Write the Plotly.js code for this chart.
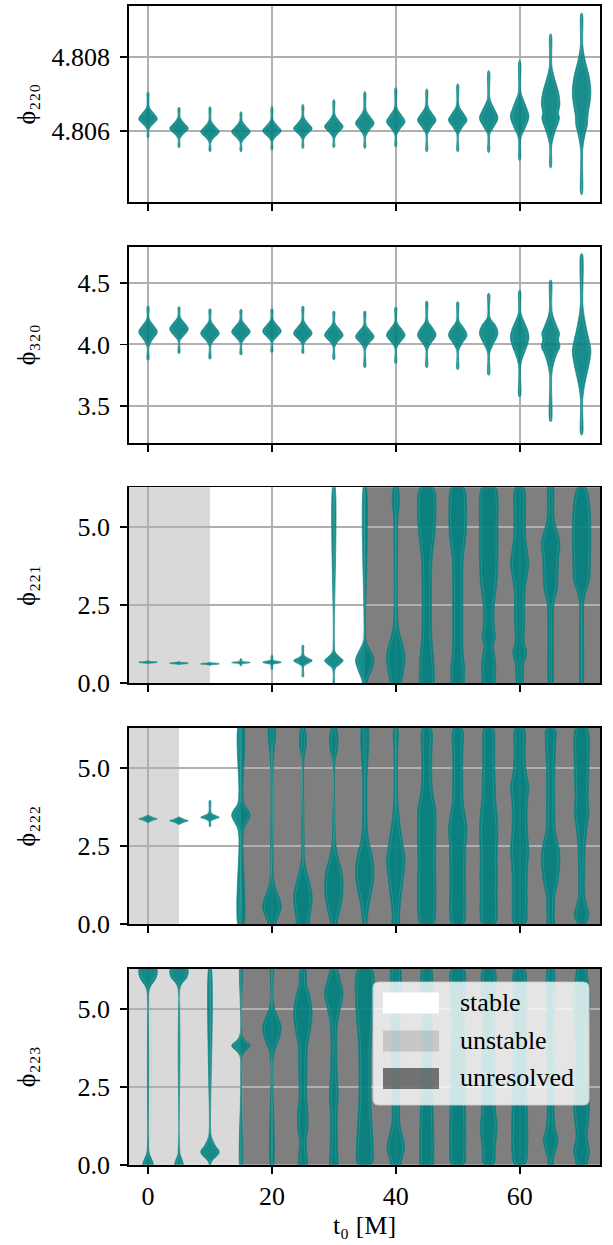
<!DOCTYPE html>
<html><head><meta charset="utf-8">
<script src="https://cdn.plot.ly/plotly-3.0.1.min.js"></script>
<style>html,body{margin:0;padding:0;background:#fff}</style>
</head><body><div id="chart" style="width:613px;height:1245px"></div>
<script>
// ---------------- DATA ----------------
const t0 = [0,5,10,15,20,25,30,35,40,45,50,55,60,65,70];

// Violin profiles: each violin is a list of [phase, relative half-width]
const phi220 = [
 [[4.80580,0],[4.80584,0.1],[4.80603,0.1],[4.80614,0.4],[4.80632,1.0],[4.80648,0.6],[4.80664,0.15],[4.80685,0.1],[4.80702,0.1],[4.80706,0]],
 [[4.80553,0],[4.80557,0.1],[4.80578,0.1],[4.80589,0.4],[4.80606,1.0],[4.80621,0.55],[4.80636,0.13],[4.80661,0.1],[4.80664,0]],
 [[4.80542,0],[4.80546,0.1],[4.80568,0.1],[4.80580,0.4],[4.80597,1.0],[4.80612,0.55],[4.80628,0.13],[4.80662,0.1],[4.80666,0]],
 [[4.80542,0],[4.80546,0.1],[4.80568,0.1],[4.80580,0.45],[4.80597,1.0],[4.80612,0.55],[4.80627,0.13],[4.80648,0.1],[4.80652,0]],
 [[4.80547,0],[4.80551,0.1],[4.80572,0.1],[4.80584,0.45],[4.80600,1.0],[4.80615,0.55],[4.80630,0.13],[4.80662,0.1],[4.80666,0]],
 [[4.80551,0],[4.80555,0.1],[4.80577,0.1],[4.80590,0.45],[4.80606,1.0],[4.80621,0.55],[4.80637,0.13],[4.80668,0.1],[4.80672,0]],
 [[4.80553,0],[4.80557,0.1],[4.80580,0.1],[4.80594,0.45],[4.80611,1.0],[4.80627,0.55],[4.80644,0.13],[4.80681,0.1],[4.80685,0]],
 [[4.80551,0],[4.80555,0.1],[4.80584,0.1],[4.80600,0.45],[4.80620,1.0],[4.80637,0.6],[4.80656,0.15],[4.80703,0.1],[4.80707,0]],
 [[4.80555,0],[4.80559,0.1],[4.80588,0.1],[4.80604,0.45],[4.80625,1.0],[4.80643,0.6],[4.80662,0.15],[4.80714,0.1],[4.80718,0]],
 [[4.80542,0],[4.80546,0.1],[4.80590,0.1],[4.80607,0.45],[4.80629,1.0],[4.80647,0.6],[4.80666,0.15],[4.80710,0.1],[4.80714,0]],
 [[4.80542,0],[4.80546,0.1],[4.80590,0.1],[4.80607,0.45],[4.80629,1.0],[4.80648,0.6],[4.80668,0.15],[4.80724,0.1],[4.80728,0]],
 [[4.80540,0],[4.80544,0.1],[4.80590,0.12],[4.80608,0.5],[4.80634,1.0],[4.80652,0.75],[4.80670,0.4],[4.80688,0.14],[4.80760,0.1],[4.80764,0]],
 [[4.80518,0],[4.80523,0.1],[4.80580,0.14],[4.80605,0.55],[4.80638,1.0],[4.80662,0.75],[4.80685,0.4],[4.80705,0.14],[4.80787,0.1],[4.80791,0]],
 [[4.80498,0],[4.80503,0.1],[4.80560,0.12],[4.80595,0.45],[4.80634,0.95],[4.80648,0.85],[4.80672,1.0],[4.80705,0.85],[4.80740,0.45],[4.80775,0.14],[4.80860,0.1],[4.80864,0]],
 [[4.80425,0],[4.80430,0.1],[4.80550,0.12],[4.80598,0.45],[4.80612,0.6],[4.80645,0.7],[4.80685,0.95],[4.80710,1.0],[4.80750,0.8],[4.80790,0.4],[4.80830,0.14],[4.80917,0.1],[4.80921,0]]
];
const phi320 = [
 [[3.872,0],[3.878,0.1],[3.98,0.1],[4.03,0.4],[4.103,1.0],[4.16,0.55],[4.21,0.13],[4.307,0.1],[4.313,0]],
 [[3.926,0],[3.932,0.1],[4.03,0.1],[4.06,0.4],[4.125,1.0],[4.18,0.55],[4.225,0.13],[4.301,0.1],[4.307,0]],
 [[3.880,0],[3.886,0.1],[3.99,0.1],[4.03,0.4],[4.09,1.0],[4.145,0.55],[4.19,0.13],[4.285,0.1],[4.291,0]],
 [[3.915,0],[3.921,0.1],[4.01,0.1],[4.045,0.4],[4.103,1.0],[4.155,0.55],[4.20,0.13],[4.28,0.1],[4.286,0]],
 [[3.934,0],[3.94,0.1],[4.02,0.1],[4.05,0.4],[4.108,1.0],[4.16,0.55],[4.205,0.13],[4.285,0.1],[4.291,0]],
 [[3.926,0],[3.932,0.1],[4.00,0.1],[4.035,0.4],[4.09,1.0],[4.145,0.55],[4.19,0.13],[4.307,0.1],[4.313,0]],
 [[3.877,0],[3.883,0.1],[3.98,0.1],[4.02,0.4],[4.076,1.0],[4.13,0.55],[4.175,0.13],[4.266,0.1],[4.272,0]],
 [[3.812,0],[3.818,0.1],[3.96,0.1],[4.005,0.4],[4.062,1.0],[4.115,0.55],[4.16,0.13],[4.266,0.1],[4.272,0]],
 [[3.845,0],[3.851,0.1],[3.97,0.1],[4.015,0.45],[4.076,1.0],[4.135,0.55],[4.18,0.13],[4.299,0.1],[4.305,0]],
 [[3.812,0],[3.818,0.1],[3.96,0.11],[4.01,0.45],[4.076,1.0],[4.14,0.6],[4.19,0.15],[4.347,0.1],[4.353,0]],
 [[3.796,0],[3.802,0.1],[3.95,0.11],[4.005,0.45],[4.076,1.0],[4.14,0.6],[4.19,0.15],[4.342,0.1],[4.348,0]],
 [[3.750,0],[3.756,0.1],[3.93,0.12],[3.995,0.45],[4.09,1.0],[4.16,0.7],[4.22,0.15],[4.41,0.1],[4.416,0]],
 [[3.574,0],[3.58,0.1],[3.83,0.12],[3.93,0.5],[4.00,0.85],[4.062,1.0],[4.13,0.8],[4.20,0.4],[4.26,0.14],[4.434,0.1],[4.44,0]],
 [[3.373,0],[3.379,0.1],[3.75,0.12],[3.85,0.35],[3.93,0.7],[3.98,1.0],[4.04,0.85],[4.09,0.95],[4.15,0.65],[4.25,0.2],[4.32,0.12],[4.518,0.1],[4.524,0]],
 [[3.264,0],[3.27,0.1],[3.55,0.12],[3.68,0.35],[3.80,0.7],[3.90,0.95],[3.954,1.0],[4.02,0.85],[4.12,0.55],[4.22,0.3],[4.32,0.14],[4.733,0.1],[4.739,0]]
];
const phi221 = [
 [[0.62,0],[0.64,0.1],[0.66,0.8],[0.676,1.0],[0.69,0.8],[0.71,0.1],[0.73,0]],
 [[0.59,0],[0.61,0.1],[0.63,0.8],[0.644,1.0],[0.66,0.8],[0.68,0.1],[0.70,0]],
 [[0.57,0],[0.59,0.1],[0.61,0.8],[0.622,1.0],[0.64,0.8],[0.66,0.1],[0.68,0]],
 [[0.56,0],[0.57,0.08],[0.62,0.12],[0.65,0.8],[0.665,1.0],[0.68,0.8],[0.71,0.12],[0.78,0.08],[0.79,0]],
 [[0.45,0],[0.46,0.08],[0.60,0.12],[0.65,0.8],[0.676,1.0],[0.70,0.8],[0.75,0.12],[0.89,0.08],[0.90,0]],
 [[0.20,0],[0.21,0.08],[0.55,0.12],[0.64,0.6],[0.73,1.0],[0.80,0.6],[0.90,0.14],[1.21,0.08],[1.22,0]],
 [[-0.1,0.06],[0.3,0.06],[0.5,0.2],[0.62,0.7],[0.73,1.0],[0.85,0.6],[1.0,0.15],[1.3,0.06],[6.4,0.06]],
 [[-0.1,0.2],[0.1,0.3],[0.4,0.7],[0.75,1.0],[1.05,0.6],[1.35,0.15],[1.6,0.08],[6.4,0.08]],
 [[-0.1,0.5],[0.1,0.65],[0.5,0.9],[0.9,1.0],[1.3,0.7],[1.7,0.35],[2.2,0.2],[4.5,0.2],[5.4,0.25],[5.6,0.35],[6.1,0.36],[6.33,0.2],[6.42,0]],
 [[-0.1,0.75],[0.1,0.8],[0.6,0.78],[1.2,0.62],[1.7,0.52],[2.5,0.5],[3.5,0.52],[4.1,0.6],[4.6,0.8],[5.1,0.95],[5.8,1.0],[6.15,0.9],[6.3,0.6],[6.38,0]],
 [[-0.1,0.7],[0.1,0.72],[0.5,0.75],[1.0,0.58],[2.0,0.55],[3.5,0.56],[4.0,0.6],[4.5,0.8],[4.9,0.93],[5.6,0.95],[6.15,0.85],[6.3,0.6],[6.38,0]],
 [[-0.1,0.7],[0.1,0.72],[0.6,0.75],[1.0,0.6],[1.2,0.5],[1.5,0.72],[1.8,0.6],[2.5,0.6],[3.0,0.8],[3.5,0.95],[5.0,1.0],[6.0,0.98],[6.25,0.8],[6.35,0]],
 [[-0.1,0.3],[0.2,0.4],[0.6,0.45],[1.0,0.75],[1.3,0.5],[2.0,0.55],[3.0,0.6],[3.5,0.85],[3.85,1.0],[4.2,0.85],[4.7,0.65],[5.5,0.62],[6.1,0.62],[6.3,0.4],[6.38,0]],
 [[-0.1,0.2],[0.2,0.3],[1.0,0.3],[2.0,0.3],[2.6,0.38],[3.0,0.7],[3.5,0.8],[4.0,0.85],[4.5,1.0],[5.0,0.6],[5.3,0.38],[6.0,0.35],[6.3,0.3],[6.38,0]],
 [[-0.1,0.15],[0.3,0.22],[1.5,0.22],[2.6,0.25],[2.9,0.45],[3.3,0.85],[4.0,0.95],[4.6,1.0],[5.4,0.95],[6.0,0.75],[6.25,0.5],[6.35,0]]
];
const phi222 = [
 [[3.24,0],[3.26,0.08],[3.33,0.6],[3.37,1.0],[3.41,0.6],[3.48,0.08],[3.50,0]],
 [[3.18,0],[3.20,0.08],[3.27,0.6],[3.31,1.0],[3.35,0.6],[3.42,0.08],[3.44,0]],
 [[3.12,0],[3.14,0.08],[3.30,0.12],[3.37,0.6],[3.42,1.0],[3.48,0.6],[3.56,0.15],[3.95,0.08],[3.97,0]],
 [[-0.1,0.22],[2.8,0.22],[3.1,0.4],[3.35,0.85],[3.5,1.0],[3.65,0.8],[3.85,0.35],[4.2,0.22],[6.4,0.22]],
 [[-0.1,0.3],[0.1,0.5],[0.5,1.0],[0.8,0.85],[1.1,0.45],[1.5,0.18],[2.5,0.13],[5.0,0.13],[5.6,0.25],[6.0,0.4],[6.3,0.35],[6.42,0]],
 [[-0.1,0.6],[0.2,0.75],[0.6,0.95],[0.9,1.0],[1.3,0.75],[1.7,0.4],[2.0,0.2],[3.0,0.13],[5.3,0.13],[5.7,0.35],[6.1,0.35],[6.3,0.2],[6.42,0]],
 [[-0.1,0.3],[0.1,0.4],[0.6,0.8],[1.2,1.0],[1.7,0.85],[2.1,0.5],[2.6,0.2],[3.2,0.13],[5.2,0.13],[5.6,0.4],[6.0,0.45],[6.25,0.3],[6.4,0]],
 [[-0.1,0.15],[0.1,0.25],[0.6,0.45],[1.2,0.85],[1.7,1.0],[2.2,0.8],[2.7,0.4],[3.2,0.25],[4.5,0.22],[6.4,0.25]],
 [[-0.1,0.35],[0.3,0.4],[0.8,0.55],[1.3,0.75],[1.8,0.95],[2.1,1.0],[2.5,0.8],[3.0,0.55],[3.6,0.3],[4.2,0.2],[5.5,0.2],[6.2,0.25],[6.42,0]],
 [[-0.08,0],[0.05,0.8],[0.3,0.95],[1.0,1.0],[2.0,0.95],[3.0,1.0],[3.7,0.95],[4.1,0.7],[4.6,0.55],[5.5,0.55],[6.0,0.62],[6.25,0.5],[6.35,0]],
 [[-0.08,0],[0.05,0.75],[0.3,0.85],[1.0,0.85],[2.0,0.85],[2.6,0.9],[3.0,1.0],[3.4,0.85],[3.9,0.6],[4.5,0.55],[5.5,0.55],[6.0,0.62],[6.25,0.5],[6.35,0]],
 [[-0.08,0],[0.05,0.8],[0.4,0.95],[1.0,0.9],[1.5,0.95],[2.2,0.9],[2.9,1.0],[3.5,0.9],[4.0,0.75],[4.5,0.7],[5.2,0.65],[6.0,0.65],[6.25,0.55],[6.35,0]],
 [[-0.08,0],[0.05,0.7],[0.5,0.8],[1.2,0.8],[1.8,0.85],[2.35,1.0],[2.9,0.85],[3.6,0.8],[4.1,0.9],[4.4,1.0],[4.8,0.75],[5.4,0.6],[6.1,0.62],[6.27,0.5],[6.35,0]],
 [[-0.1,0.3],[0.3,0.4],[0.9,0.45],[1.3,0.75],[1.8,0.95],[2.2,1.0],[2.6,0.8],[3.0,0.5],[3.6,0.45],[5.0,0.45],[5.8,0.55],[6.2,0.55],[6.35,0]],
 [[-0.08,0],[0.05,0.5],[0.3,0.8],[0.55,0.6],[0.9,0.35],[1.5,0.33],[2.4,0.38],[3.0,0.55],[3.6,0.8],[4.0,0.7],[4.5,0.75],[5.2,0.8],[6.0,0.82],[6.25,0.65],[6.35,0]]
];
const phi223 = [
 [[-0.1,0.55],[0.1,0.5],[0.3,0.2],[0.5,0.08],[5.5,0.08],[5.7,0.25],[5.95,0.8],[6.15,1.0],[6.3,0.9],[6.4,0]],
 [[-0.1,0.45],[0.1,0.4],[0.3,0.15],[0.45,0.08],[5.6,0.08],[5.8,0.3],[6.0,0.85],[6.2,1.0],[6.3,0.9],[6.4,0]],
 [[-0.1,0.07],[0.05,0.1],[0.15,0.3],[0.4,1.0],[0.65,0.5],[0.9,0.15],[1.1,0.07],[6.4,0.07]],
 [[-0.1,0.07],[3.45,0.08],[3.6,0.35],[3.82,1.0],[4.0,0.4],[4.2,0.08],[6.4,0.07]],
 [[-0.1,0.1],[3.3,0.12],[3.7,0.35],[4.1,0.85],[4.4,1.0],[4.7,0.7],[5.0,0.3],[5.4,0.12],[6.4,0.1]],
 [[-0.1,0.4],[0.3,0.45],[0.7,0.35],[1.2,0.55],[1.7,0.55],[2.2,0.4],[3.0,0.45],[3.8,0.5],[4.3,0.8],[4.9,1.0],[5.4,0.75],[5.8,0.4],[6.2,0.35],[6.4,0]],
 [[-0.1,0.35],[0.5,0.4],[1.5,0.35],[2.3,0.48],[3.0,0.35],[4.5,0.38],[5.0,0.7],[5.5,1.0],[5.9,0.7],[6.2,0.45],[6.4,0]],
 [[-0.08,0],[0.05,0.8],[0.5,0.9],[1.2,0.8],[2.0,0.65],[3.0,0.62],[4.0,0.7],[4.7,0.9],[5.3,1.0],[6.0,1.0],[6.25,0.8],[6.35,0]],
 [[-0.1,0.5],[0.1,0.6],[0.55,0.95],[0.9,0.75],[1.3,0.45],[2.0,0.4],[3.5,0.45],[5.0,0.5],[6.0,0.6],[6.3,0.5],[6.4,0]],
 [[-0.1,0.6],[0.3,0.75],[1.0,0.75],[1.6,0.7],[2.5,0.6],[4.0,0.55],[5.5,0.6],[6.1,0.65],[6.3,0.5],[6.4,0]],
 [[-0.08,0],[0.05,0.75],[0.5,0.85],[1.5,0.85],[2.5,0.8],[3.5,0.75],[4.5,0.7],[5.5,0.8],[6.1,0.85],[6.3,0.65],[6.38,0]],
 [[-0.08,0],[0.05,0.6],[0.5,0.7],[1.2,0.9],[1.8,0.75],[3.0,0.7],[4.5,0.65],[5.5,0.75],[6.1,0.8],[6.3,0.6],[6.38,0]],
 [[-0.08,0],[0.05,0.65],[0.5,0.85],[1.5,0.85],[2.5,0.75],[3.5,0.7],[4.5,0.7],[5.5,0.7],[6.1,0.72],[6.3,0.55],[6.38,0]],
 [[-0.1,0.2],[0.2,0.3],[0.5,0.6],[0.8,0.8],[1.1,0.55],[1.5,0.4],[3.0,0.4],[5.0,0.42],[6.1,0.45],[6.3,0.35],[6.4,0]],
 [[-0.1,0.5],[0.1,0.65],[0.45,0.85],[0.9,0.6],[1.4,0.75],[1.8,0.85],[2.5,0.7],[3.5,0.6],[4.5,0.7],[5.2,0.9],[5.6,0.85],[6.0,0.65],[6.3,0.5],[6.4,0]]
];

// Fit-status regions along t0 per mode: [status, from, to]
const regions220 = [];
const regions320 = [];
const regions221 = [['unstable', -10, 10], ['stable', 10, 35], ['unresolved', 35, 100]];
const regions222 = [['unstable', -10, 5], ['stable', 5, 15], ['unresolved', 15, 100]];
const regions223 = [['unstable', -10, 15], ['unresolved', 15, 100]];

const modeLabels = ['₂₂₀','₃₂₀','₂₂₁','₂₂₂','₂₂₃'];
const yTickVals = [[4.806, 4.808], [3.5, 4.0, 4.5], [0, 2.5, 5], [0, 2.5, 5], [0, 2.5, 5]];
const yTickText = [['4.806','4.808'], ['3.5','4.0','4.5'], ['0.0','2.5','5.0'], ['0.0','2.5','5.0'], ['0.0','2.5','5.0']];
const xTickVals = [0, 20, 40, 60];
const legendLabels = ['stable', 'unstable', 'unresolved'];

// ---------------- STYLE / LAYOUT ----------------
const W = 613, H = 1245;
const ML = 129, MR = 13;
const PW = W - ML - MR;
const panelTops = [6, 246.7, 487.3, 728, 968.7];
const PH = 196;
const yRanges = [[4.804057, 4.809398], [3.2016, 4.795], [0, 2*Math.PI], [0, 2*Math.PI], [0, 2*Math.PI]];
const XR = [-3.07, 72.97];
const HALF = 1.5;
const FONT = 'Liberation Serif';
const regionColor = {stable: 'white', unstable: 'rgba(128,128,128,0.3)', unresolved: 'rgba(0,0,0,0.5)'};
const violinData = [phi220, phi320, phi221, phi222, phi223];
const regionData = [regions220, regions320, regions221, regions222, regions223];
const standoffs = [8.5, 34.5, 34.5, 34.5, 34.5];

function outline(tc, knots, inset) {
  const xs = [], ys = [];
  for (const [y, w] of knots) { xs.push(tc + Math.max(HALF*w - inset, 0)); ys.push(y); }
  for (let i = knots.length - 1; i >= 0; i--) {
    const [y, w] = knots[i];
    const hw = Math.max(HALF*w - inset, 0);
    if (hw === 0) continue;
    xs.push(tc - hw); ys.push(y);
  }
  xs.push(xs[0]); ys.push(ys[0]);
  return {xs, ys};
}

const traces = [];
const layout = {
  width: W, height: H,
  margin: {l: ML, r: MR, t: 0, b: 0},
  paper_bgcolor: 'white', plot_bgcolor: 'white',
  showlegend: false,
  font: {family: FONT, size: 26, color: 'black'},
  shapes: [], annotations: []
};

for (let p = 0; p < 5; p++) {
  const xa = p === 0 ? 'x' : 'x' + (p+1);
  const ya = p === 0 ? 'y' : 'y' + (p+1);
  const xkey = p === 0 ? 'xaxis' : 'xaxis' + (p+1);
  const ykey = p === 0 ? 'yaxis' : 'yaxis' + (p+1);
  const top = panelTops[p], bot = top + PH;
  layout[xkey] = {
    domain: [0, 1], anchor: ya, range: XR,
    tickvals: xTickVals, ticktext: xTickVals.map(String), showticklabels: p === 4,
    ticks: 'outside', ticklen: 7, tickwidth: 1.8, tickcolor: 'black',
    showline: true, mirror: true, linecolor: 'black', linewidth: 1.8,
    showgrid: true, gridcolor: '#b0b0b0', gridwidth: 2, zeroline: false,
    tickfont: {family: FONT, size: 26, color: 'black'},
    automargin: false
  };
  if (p > 0) layout[xkey].matches = 'x';
  if (p === 4) {
    layout[xkey].title = {text: 't₀ [M]', font: {family: FONT, size: 26, color: 'black'}, standoff: 4};
  }
  layout[ykey] = {
    domain: [(H - bot)/H, (H - top)/H], anchor: xa, range: yRanges[p],
    tickvals: yTickVals[p], ticktext: yTickText[p],
    ticks: 'outside', ticklen: 7, tickwidth: 1.8, tickcolor: 'black', ticklabelstandoff: 5,
    showline: true, mirror: true, linecolor: 'black', linewidth: 1.8,
    showgrid: true, gridcolor: '#b0b0b0', gridwidth: 2, zeroline: false,
    tickfont: {family: FONT, size: 26, color: 'black'},
    automargin: false,
    title: {text: 'ϕ' + modeLabels[p],
            font: {family: FONT, size: 26, color: 'black'}, standoff: standoffs[p]}
  };
  for (const [status, a, b] of regionData[p]) {
    layout.shapes.push({type: 'rect', xref: xa, yref: ya + ' domain', x0: Math.max(a, XR[0]), x1: Math.min(b, XR[1]), y0: 0, y1: 1,
      fillcolor: regionColor[status], line: {width: 0}, layer: 'below'});
  }
  violinData[p].forEach((knots, i) => {
    const o = outline(t0[i], knots, 0);
    traces.push({type: 'scatter', mode: 'lines', x: o.xs, y: o.ys, xaxis: xa, yaxis: ya,
      fill: 'toself', fillcolor: 'rgba(0,128,128,0.9)',
      line: {color: 'rgba(10,130,128,0.95)', width: 0.7, shape: 'spline', smoothing: 1},
      hoverinfo: 'skip', showlegend: false});
    const inner = outline(t0[i], knots, 0.3);
    traces.push({type: 'scatter', mode: 'lines', x: inner.xs, y: inner.ys, xaxis: xa, yaxis: ya,
      line: {color: 'rgba(120,200,195,0.4)', width: 0.6, shape: 'spline', smoothing: 1},
      hoverinfo: 'skip', showlegend: false});
  });
}

const px2x = px => (px - ML) / PW;
const py2y = py => (H - py) / H;
(function () {
  const x0 = 373, x1 = 589, y0 = 982, y1 = 1105, r = 6;
  const X = px2x, Y = py2y;
  const path = `M${X(x0+r)},${Y(y0)} L${X(x1-r)},${Y(y0)} Q${X(x1)},${Y(y0)} ${X(x1)},${Y(y0+r)} ` +
               `L${X(x1)},${Y(y1-r)} Q${X(x1)},${Y(y1)} ${X(x1-r)},${Y(y1)} L${X(x0+r)},${Y(y1)} ` +
               `Q${X(x0)},${Y(y1)} ${X(x0)},${Y(y1-r)} L${X(x0)},${Y(y0+r)} Q${X(x0)},${Y(y0)} ${X(x0+r)},${Y(y0)} Z`;
  layout.shapes.push({type: 'path', xref: 'paper', yref: 'paper', path: path,
    fillcolor: 'rgba(255,255,255,0.8)', line: {color: 'rgba(204,204,204,0.8)', width: 1.2}, layer: 'above'});
  const rows = [[992.5, 1013.5], [1030.5, 1051.5], [1068, 1089]];
  legendLabels.forEach((lab, k) => {
    const [a, b] = rows[k];
    layout.shapes.push({type: 'rect', xref: 'paper', yref: 'paper', x0: X(383), x1: X(439), y0: Y(b), y1: Y(a),
      fillcolor: regionColor[lab], line: {width: 0}, layer: 'above'});
    layout.annotations.push({xref: 'paper', yref: 'paper', x: X(458), y: Y((a+b)/2 - 1), xanchor: 'left', yanchor: 'middle',
      text: lab, showarrow: false, font: {family: FONT, size: 26, color: 'black'}});
  });
})();

Plotly.newPlot('chart', traces, layout, {staticPlot: true, displayModeBar: false});
</script></body></html>
